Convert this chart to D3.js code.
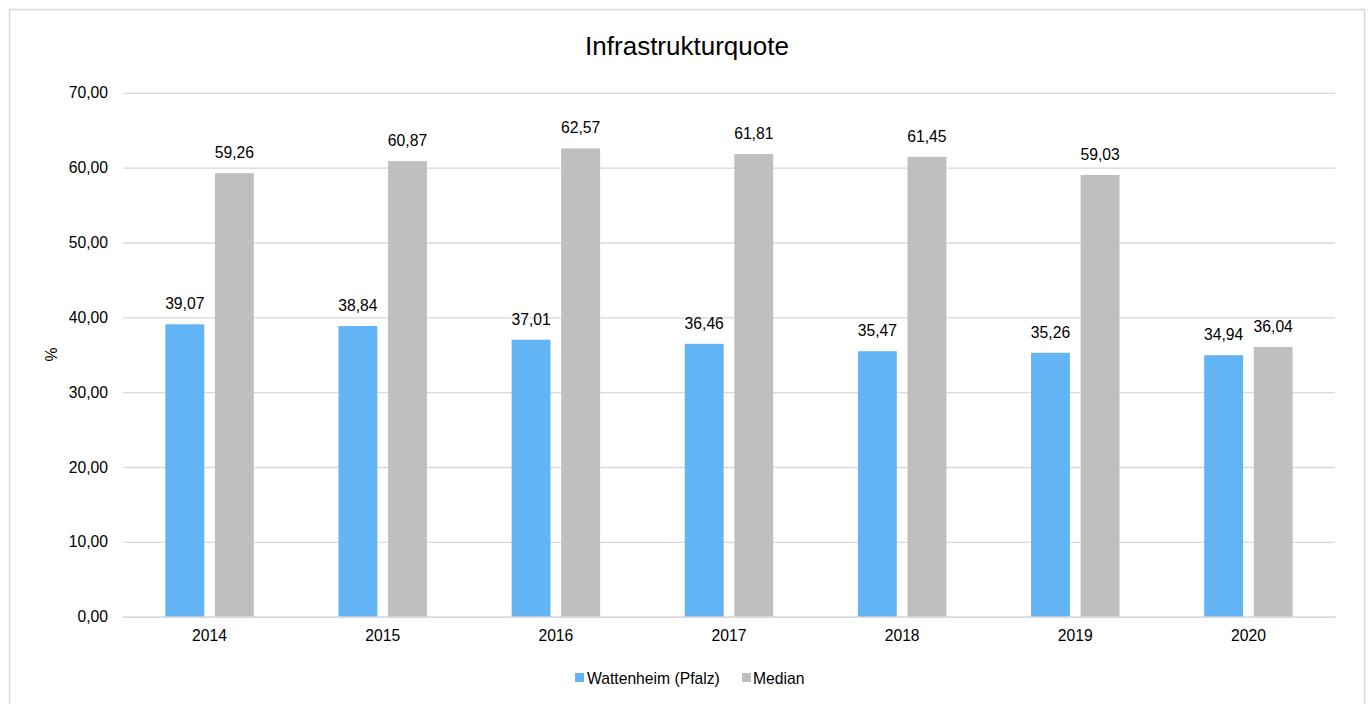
<!DOCTYPE html>
<html>
<head>
<meta charset="utf-8">
<script src="https://cdn.jsdelivr.net/npm/d3@7/dist/d3.min.js"></script>
<style>
  html, body { margin: 0; padding: 0; background: #fff; }
  svg { display: block; font-family: "Liberation Sans", Arial, sans-serif; }
</style>
</head>
<body>
<svg id="chart" width="1370" height="704"></svg>
<script>
const categories = ["2014", "2015", "2016", "2017", "2018", "2019", "2020"];
const seriesNames = ["Wattenheim (Pfalz)", "Median"];
const wattenheim = [39.07, 38.84, 37.01, 36.46, 35.47, 35.26, 34.94];
const median = [59.26, 60.87, 62.57, 61.81, 61.45, 59.03, 36.04];
const yTicks = [0, 10, 20, 30, 40, 50, 60, 70];
const colors = ["#63B4F5", "#BFBFBF"];

const svg = d3.select("#chart");
const fmt = v => d3.format(".2f")(v).replace(".", ",");
const fs = 15.7;

// chart border
svg.append("rect")
  .attr("x", 9.5).attr("y", 9.5).attr("width", 1355).attr("height", 720)
  .attr("fill", "#fff").attr("stroke", "#D9D9D9").attr("stroke-width", 1.5);

const plotLeft = 123, plotRight = 1335, plotTop = 92.8, plotBottom = 616.7;

const x = d3.scaleBand().domain(categories).range([plotLeft, plotRight])
  .paddingInner(0.489).paddingOuter(0.2445);
const x1 = d3.scaleBand().domain(seriesNames).range([0, x.bandwidth()])
  .paddingInner(0.216).paddingOuter(0);
const y = d3.scaleLinear().domain([0, 70]).range([plotBottom, plotTop]);

// title
svg.append("text").attr("x", 687).attr("y", 54.5)
  .attr("text-anchor", "middle").attr("font-size", 26).attr("fill", "#000")
  .text("Infrastrukturquote");

// y axis with gridlines
const yAxis = svg.append("g").attr("transform", `translate(${plotLeft},0)`)
  .call(d3.axisLeft(y).tickValues(yTicks).tickFormat(fmt)
    .tickSize(-(plotRight - plotLeft)).tickPadding(15));
yAxis.select(".domain").remove();
yAxis.selectAll(".tick line").attr("stroke", "#D9D9D9").attr("stroke-width", 1.3);
yAxis.selectAll(".tick text").attr("font-size", fs).attr("fill", "#000")
  .attr("font-family", "Liberation Sans, Arial, sans-serif");

// y axis title
svg.append("text")
  .attr("transform", "translate(57,354.5) rotate(-90)")
  .attr("text-anchor", "middle").attr("font-size", fs).attr("fill", "#000")
  .text("%");

// bars
const data = categories.map((c, i) => ({ cat: c, values: [wattenheim[i], median[i]] }));
const groups = svg.append("g").selectAll("g").data(data).join("g")
  .attr("transform", d => `translate(${x(d.cat)},0)`);

groups.selectAll("rect").data(d => d.values.map((v, j) => ({ name: seriesNames[j], v, j })))
  .join("rect")
  .attr("x", d => x1(d.name))
  .attr("width", x1.bandwidth())
  .attr("y", d => y(d.v))
  .attr("height", d => y(0) - y(d.v))
  .attr("fill", d => colors[d.j]);

groups.selectAll("text.lbl").data(d => d.values.map((v, j) => ({ name: seriesNames[j], v, j })))
  .join("text").attr("class", "lbl")
  .attr("x", d => x1(d.name) + x1.bandwidth() / 2)
  .attr("y", d => y(d.v) - 15)
  .attr("text-anchor", "middle").attr("font-size", fs).attr("fill", "#000")
  .text(d => fmt(d.v));

// x axis
const xAxis = svg.append("g").attr("transform", `translate(0,${plotBottom})`)
  .call(d3.axisBottom(x.copy().paddingInner(0).paddingOuter(0)).tickSize(0).tickPadding(13));
xAxis.select(".domain").attr("stroke", "#D9D9D9").attr("stroke-width", 1.5);
xAxis.selectAll(".tick text").attr("font-size", fs).attr("fill", "#000")
  .attr("font-family", "Liberation Sans, Arial, sans-serif");

// legend
const legendItems = [
  { name: seriesNames[0], color: colors[0], sx: 575, tx: 587 },
  { name: seriesNames[1], color: colors[1], sx: 742, tx: 753 }
];
const lg = svg.append("g");
lg.selectAll("rect").data(legendItems).join("rect")
  .attr("x", d => d.sx).attr("y", 673).attr("width", 9).attr("height", 9)
  .attr("fill", d => d.color);
lg.selectAll("text").data(legendItems).join("text")
  .attr("x", d => d.tx).attr("y", 683.5)
  .attr("font-size", fs).attr("fill", "#000")
  .text(d => d.name);
</script>
</body>
</html>
